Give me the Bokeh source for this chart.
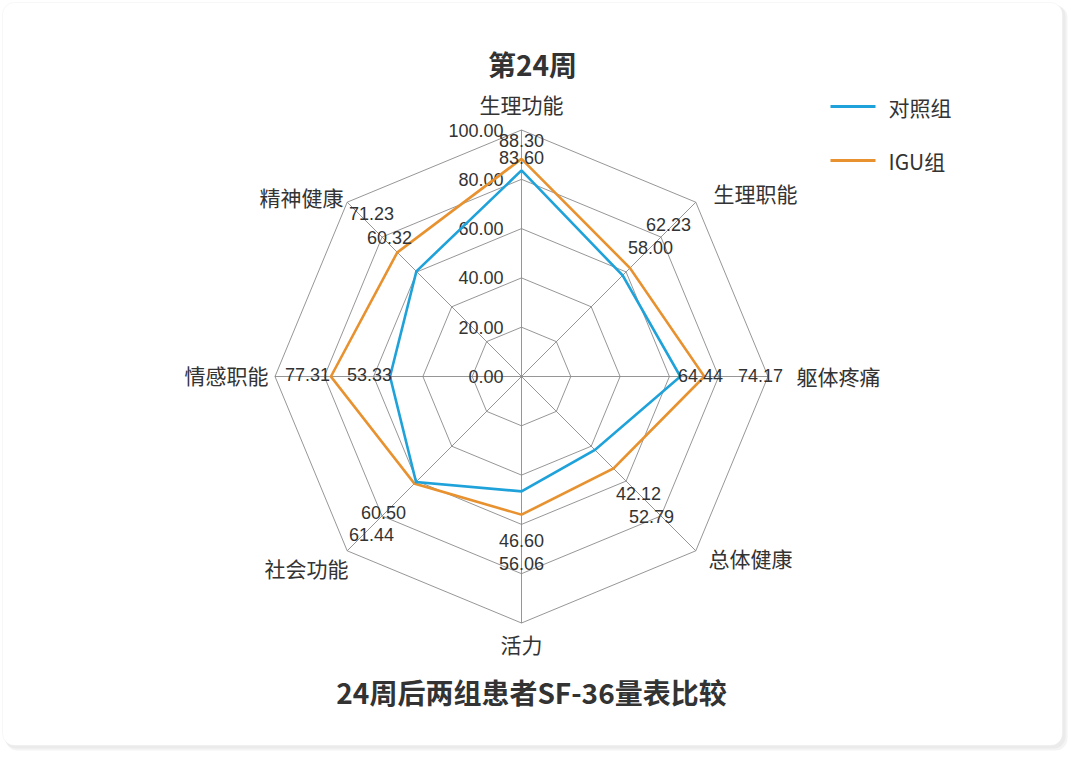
import math
from bokeh.plotting import figure
from bokeh.models import Range1d, BoxAnnotation
from bokeh.core.properties import value
from bokeh.embed import file_html
from bokeh.resources import INLINE

# ---------------- data ----------------
categories = ["生理功能", "生理职能", "躯体疼痛", "总体健康", "活力", "社会功能", "情感职能", "精神健康"]
control_vals = [83.60, 58.00, 64.44, 42.12, 46.60, 60.50, 53.33, 60.32]
igu_vals = [88.30, 62.23, 74.17, 52.79, 56.06, 61.44, 77.31, 71.23]
tick_vals = [0, 20, 40, 60, 80, 100]
series_names = ["对照组", "IGU组"]
title_top = "第24周"
title_bottom = "24周后两组患者SF-36量表比较"

# ---------------- layout / style ----------------
BLUE = "#1ea2d9"
ORANGE = "#e8912f"
GRID = "#8a8a8a"
TXT = "#333333"
CJK = value("Noto Sans CJK SC")
NUM = value("Liberation Sans")

W, H = 1072, 752
CX, CY = 521, 376           # radar centre (page px)
RU = 2.465                  # px per unit
N = len(categories)

# offsets (page px from centre) of value labels and category labels
ctrl_lab_off = [(0, -219), (129, -129), (179, -1), (117, 117), (0, 164), (-138, 136), (-152, -2), (-132, -139)]
igu_lab_off = [(0, -236), (147, -152), (239, -1), (130, 140), (0, 187), (-150, 158), (-214, -2), (-150, -163)]
cat_lab_off = [(0, -273), (234, -184), (317, -1), (229, 181), (0, 267), (-215, 191), (-295, -2), (-220, -180)]

p = figure(width=W, height=H, output_backend="svg", toolbar_location=None,
           x_range=Range1d(0, W), y_range=Range1d(H, 0),
           min_border=0, outline_line_color=None)
p.axis.visible = False
p.grid.visible = False
p.background_fill_color = "white"
p.border_fill_color = "white"

# card with soft shadow
p.add_layout(BoxAnnotation(left=5, right=1067, top=5, bottom=750, border_radius=12,
                           fill_color="#ececec", fill_alpha=0.6, line_color=None, level="underlay"))
p.add_layout(BoxAnnotation(left=4, right=1065, top=4, bottom=748, border_radius=12,
                           fill_color="#e4e4e4", fill_alpha=0.6, line_color=None, level="underlay"))
p.add_layout(BoxAnnotation(left=2, right=1062, top=2, bottom=745, border_radius=12,
                           fill_color="white", fill_alpha=1, line_color="#e6e6e6", line_width=1, level="underlay"))


def angle(i):
    return math.radians(90 - 360.0 * i / N)


def pt(i, v):
    a = angle(i)
    return CX + v * RU * math.cos(a), CY - v * RU * math.sin(a)


# grid rings
for t in tick_vals[1:]:
    xs = [pt(i % N, t)[0] for i in range(N + 1)]
    ys = [pt(i % N, t)[1] for i in range(N + 1)]
    p.line(xs, ys, line_color=GRID, line_width=0.9)

# spokes
for i in range(N):
    x1, y1 = pt(i, tick_vals[-1])
    p.segment(x0=[CX], y0=[CY], x1=[x1], y1=[y1], line_color=GRID, line_width=0.9)

# tick labels
p.text(x=[CX - 18] * len(tick_vals), y=[CY - t * RU for t in tick_vals],
       text=["%.2f" % t for t in tick_vals], text_align="right", text_baseline="middle",
       text_font=NUM, text_font_size="18px", text_color=TXT)

# series polygons
for vals, col in ((igu_vals, ORANGE), (control_vals, BLUE)):
    xs = [pt(i % N, vals[i % N])[0] for i in range(N + 1)]
    ys = [pt(i % N, vals[i % N])[1] for i in range(N + 1)]
    p.line(xs, ys, line_color=col, line_width=2.6, line_join="miter")

# value labels
for vals, offs in ((control_vals, ctrl_lab_off), (igu_vals, igu_lab_off)):
    p.text(x=[CX + o[0] for o in offs], y=[CY + o[1] for o in offs],
           text=["%.2f" % v for v in vals], text_align="center", text_baseline="middle",
           text_font=NUM, text_font_size="18px", text_color=TXT)

# category labels
p.text(x=[CX + o[0] for o in cat_lab_off], y=[CY + o[1] for o in cat_lab_off],
       text=categories, text_align="center", text_baseline="middle",
       text_font=CJK, text_font_size="21px", text_color=TXT)

# titles
p.text(x=[532], y=[63], text=[title_top], text_align="center", text_baseline="middle",
       text_font=CJK, text_font_size="28px", text_font_style="bold", text_color=TXT)
p.text(x=[531], y=[691], text=[title_bottom], text_align="center", text_baseline="middle",
       text_font=CJK, text_font_size="28px", text_font_style="bold", text_color=TXT)

# legend
for k, (name, col) in enumerate(zip(series_names, (BLUE, ORANGE))):
    ly = 106 + 54 * k
    p.segment(x0=[830], y0=[ly], x1=[875], y1=[ly], line_color=col, line_width=3)
    p.text(x=[888], y=[ly], text=[name], text_align="left", text_baseline="middle",
           text_font=CJK, text_font_size="21px", text_color=TXT)

open("out.html", "w").write(file_html(p, INLINE))
